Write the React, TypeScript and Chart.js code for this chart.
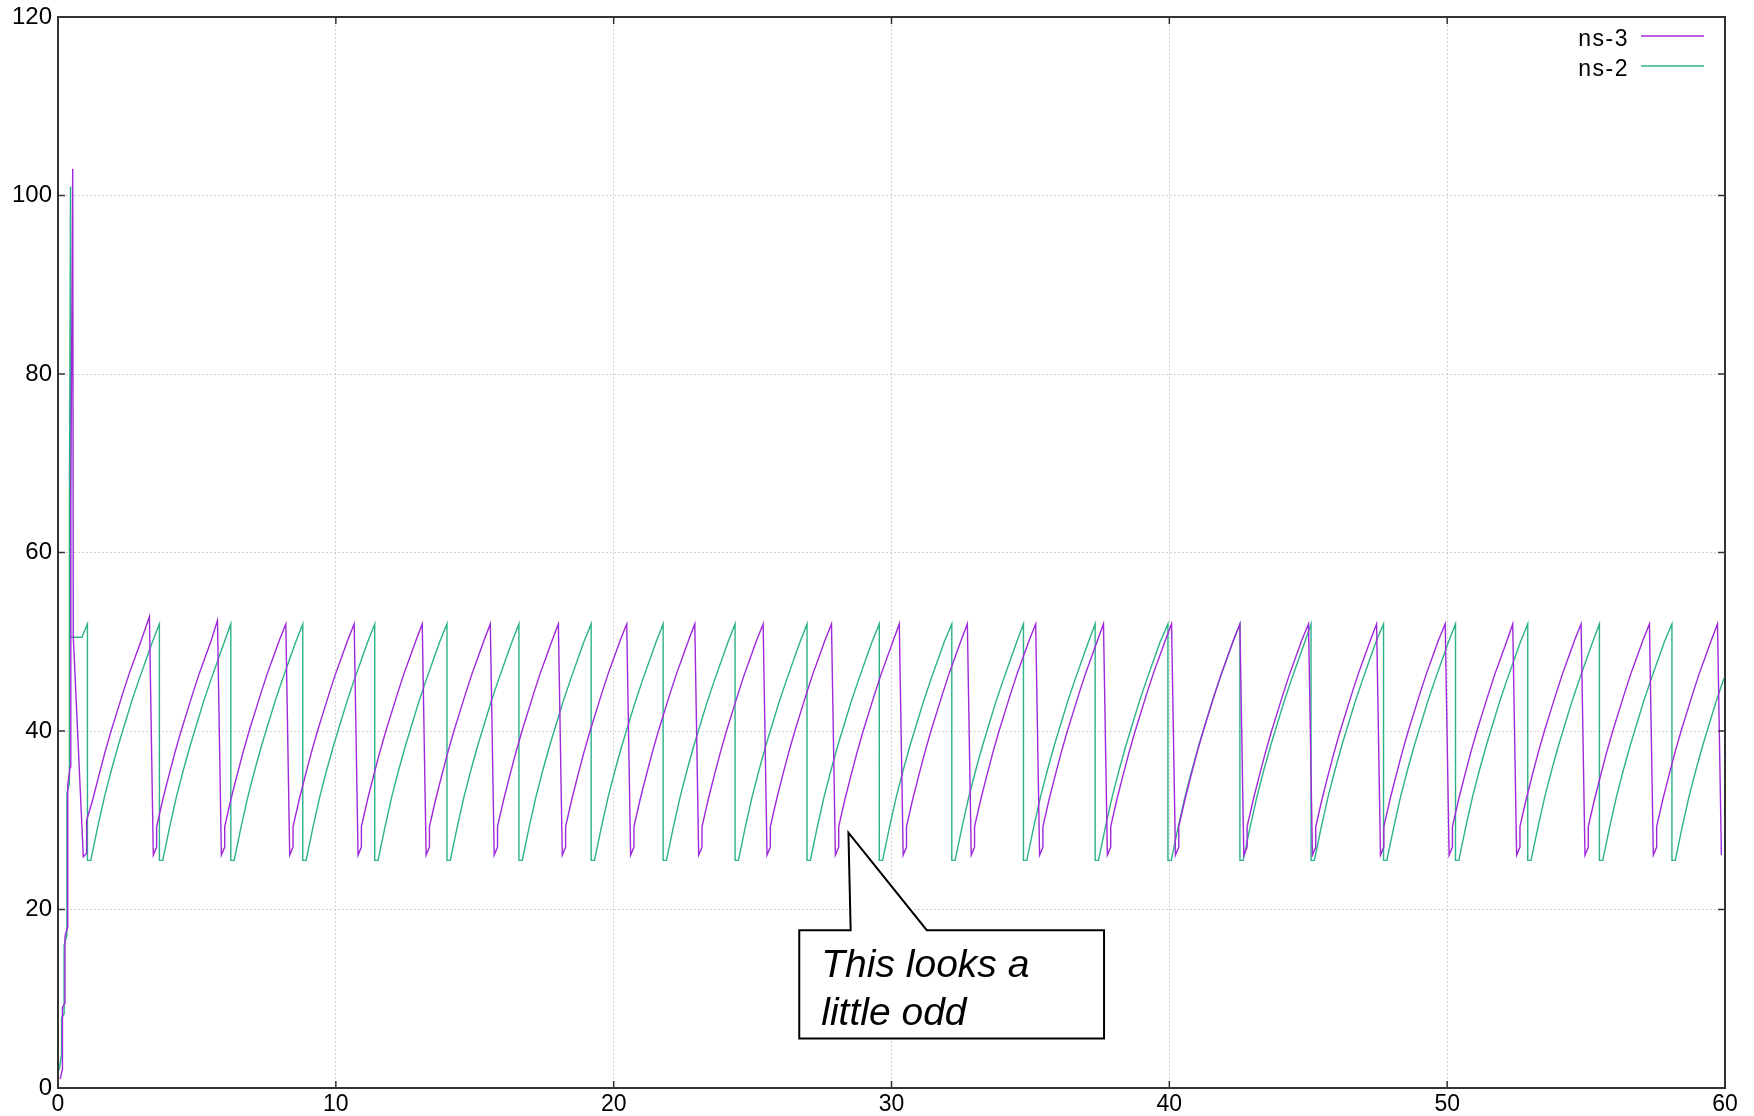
import React, { useEffect, useRef } from "react";
import { Chart, registerables } from "chart.js";

Chart.register(...registerables);

// Axis ranges and tick steps
const X_MIN = 0;
const X_MAX = 60;
const X_STEP = 10;
const Y_MIN = 0;
const Y_MAX = 120;
const Y_STEP = 20;

const SERIES_LABELS = ["ns-3", "ns-2"];
const SERIES_COLORS = ["#a028dc", "#2cb28a"];

// ns-3: slow start, first loss and recovery, up to the start of the first linear climb
const ns3Start: [number, number][] = [
  [0.08, 1.0], [0.15, 2.0], [0.16, 4.5], [0.16, 9.0], [0.24, 9.5], [0.25, 17.0],
  [0.34, 18.0], [0.35, 34.0], [0.44, 36.0], [0.46, 66.0], [0.53, 103.0],
  [0.55, 50.6], [0.91, 25.9], [1.03, 26.3], [1.03, 30.0],
];
const ns3FirstRiseStart = 1.03;
// time of each window peak and its height
const ns3PeakTimes = [
  3.29, 5.74, 8.2, 10.66, 13.11, 15.56, 18.01, 20.47, 22.92, 25.38, 27.84, 30.28,
  32.73, 35.19, 37.63, 40.08, 42.54, 45.01, 47.46, 49.93, 52.36, 54.82, 57.28, 59.73,
];
const ns3PeakValues = [
  52.8, 52.4, 52.0, 52.0, 52.0, 52.0, 52.0, 52.0, 52.0, 52.0, 52.0, 52.0,
  52.0, 52.0, 52.0, 52.0, 52.0, 52.0, 52.0, 52.0, 52.0, 52.0, 52.0, 52.0,
];
const ns3Trough = 26.1;
const ns3StepLow = 27.0;
const ns3StepHigh = 29.3;
const ns3DropWidth = 0.14;
const ns3StepDelay = 0.26;
// climb after each recovery: [time since recovery, window]
const ns3RiseProfile: [number, number][] = [
  [0.22, 32.3], [0.44, 35.0], [0.66, 37.6], [0.88, 40.0], [1.1, 42.2],
  [1.31, 44.3], [1.53, 46.4], [1.75, 48.3], [1.97, 50.2],
];

// ns-2: slow start and the flat stretch after the first loss
const ns2Start: [number, number][] = [
  [0.04, 2.0], [0.13, 3.8], [0.13, 7.9], [0.22, 8.3], [0.22, 16.0], [0.31, 17.0],
  [0.32, 33.0], [0.4, 34.0], [0.41, 64.0], [0.45, 101.0], [0.45, 50.5], [0.86, 50.5],
];
const ns2PeakTimes = [
  1.06, 3.65, 6.22, 8.81, 11.4, 14.0, 16.59, 19.19, 21.78, 24.37, 26.96, 29.56,
  32.17, 34.75, 37.33, 39.95, 42.54, 45.1, 47.71, 50.3, 52.9, 55.48, 58.09,
];
const ns2Peak = 52.0;
const ns2Trough = 25.5;
const ns2FlatWidth = 0.12;
const ns2EndValue = 46.0;
const ns2RiseProfile: [number, number][] = [
  [0.25, 29.25], [0.49, 32.6], [0.74, 35.6], [0.99, 38.4], [1.24, 40.95],
  [1.48, 43.4], [1.73, 45.7], [1.98, 47.9], [2.22, 50.0],
];

const CALLOUT_LINES = ["This looks a", "little odd"];
// callout box and pointer, in axis units
const CALLOUT_TIP = [28.45, 28.6];
const CALLOUT_BOX_X = [26.68, 37.65];
const CALLOUT_BOX_Y = [5.56, 17.68];
const CALLOUT_BASE_X = [28.53, 31.27];

type Pt = { x: number; y: number };

function buildNs3(): Pt[] {
  const pts: [number, number][] = [...ns3Start];
  let riseStart = ns3FirstRiseStart;
  ns3PeakTimes.forEach((t, i) => {
    for (const [dt, v] of ns3RiseProfile) {
      if (riseStart + dt < t - 0.05) pts.push([riseStart + dt, v]);
    }
    pts.push([t, ns3PeakValues[i]]);
    pts.push([t + ns3DropWidth, ns3Trough]);
    if (i < ns3PeakTimes.length - 1) {
      pts.push([t + ns3StepDelay, ns3StepLow]);
      pts.push([t + ns3StepDelay, ns3StepHigh]);
      riseStart = t + ns3StepDelay;
    }
  });
  return pts.map(([x, y]) => ({ x, y }));
}

function buildNs2(): Pt[] {
  const pts: [number, number][] = [...ns2Start];
  ns2PeakTimes.forEach((t, i) => {
    pts.push([t, ns2Peak]);
    pts.push([t, ns2Trough]);
    pts.push([t + ns2FlatWidth, ns2Trough]);
    const riseStart = t + ns2FlatWidth;
    const next = i < ns2PeakTimes.length - 1 ? ns2PeakTimes[i + 1] : X_MAX;
    for (const [dt, v] of ns2RiseProfile) {
      if (riseStart + dt < next - 0.05) pts.push([riseStart + dt, v]);
    }
  });
  pts.push([X_MAX, ns2EndValue]);
  return pts.map(([x, y]) => ({ x, y }));
}

const FRAME_COLOR = "#333333";
const TICK_LEN = 7;

const framePlugin = {
  id: "frameAndDecor",
  afterDatasetsDraw(chart: any) {
    const { ctx, chartArea: a, scales } = chart;
    const xs = scales.x;
    const ys = scales.y;
    ctx.save();

    // inward ticks on all four sides
    ctx.strokeStyle = FRAME_COLOR;
    ctx.lineWidth = 1.5;
    ctx.beginPath();
    for (let v = X_MIN; v <= X_MAX; v += X_STEP) {
      const px = xs.getPixelForValue(v);
      ctx.moveTo(px, a.bottom);
      ctx.lineTo(px, a.bottom - TICK_LEN);
      ctx.moveTo(px, a.top);
      ctx.lineTo(px, a.top + TICK_LEN);
    }
    for (let v = Y_MIN; v <= Y_MAX; v += Y_STEP) {
      const py = ys.getPixelForValue(v);
      ctx.moveTo(a.left, py);
      ctx.lineTo(a.left + TICK_LEN, py);
      ctx.moveTo(a.right, py);
      ctx.lineTo(a.right - TICK_LEN, py);
    }
    ctx.stroke();

    // frame
    ctx.lineWidth = 2;
    ctx.strokeRect(a.left, a.top, a.right - a.left, a.bottom - a.top);

    // key in the top-right corner
    ctx.font = "23px 'Liberation Sans', Arial, sans-serif";
    ctx.textAlign = "right";
    ctx.textBaseline = "alphabetic";
    (ctx as any).letterSpacing = "1.5px";
    chart.data.datasets.forEach((ds: any, i: number) => {
      const baseY = a.top + 28.5 + i * 30;
      const lineY = a.top + 19 + i * 30;
      ctx.fillStyle = "#000";
      ctx.fillText(ds.label, a.right - 96, baseY);
      ctx.strokeStyle = ds.borderColor;
      ctx.lineWidth = 1.6;
      ctx.beginPath();
      ctx.moveTo(a.right - 84, lineY);
      ctx.lineTo(a.right - 21, lineY);
      ctx.stroke();
    });
    (ctx as any).letterSpacing = "0px";

    // callout
    const bx0 = xs.getPixelForValue(CALLOUT_BOX_X[0]);
    const bx1 = xs.getPixelForValue(CALLOUT_BOX_X[1]);
    const by0 = ys.getPixelForValue(CALLOUT_BOX_Y[1]);
    const by1 = ys.getPixelForValue(CALLOUT_BOX_Y[0]);
    const tx = xs.getPixelForValue(CALLOUT_TIP[0]);
    const ty = ys.getPixelForValue(CALLOUT_TIP[1]);
    const p0 = xs.getPixelForValue(CALLOUT_BASE_X[0]);
    const p1 = xs.getPixelForValue(CALLOUT_BASE_X[1]);
    ctx.beginPath();
    ctx.moveTo(bx0, by0);
    ctx.lineTo(p0, by0);
    ctx.lineTo(tx, ty);
    ctx.lineTo(p1, by0);
    ctx.lineTo(bx1, by0);
    ctx.lineTo(bx1, by1);
    ctx.lineTo(bx0, by1);
    ctx.closePath();
    ctx.fillStyle = "#ffffff";
    ctx.fill();
    ctx.strokeStyle = "#000";
    ctx.lineWidth = 2;
    ctx.lineJoin = "miter";
    ctx.stroke();

    ctx.fillStyle = "#000";
    ctx.textAlign = "left";
    ctx.font = "italic 39px 'Liberation Sans', Arial, sans-serif";
    CALLOUT_LINES.forEach((line, i) => {
      ctx.fillText(line, bx0 + 22, by0 + 47 + i * 48);
    });

    ctx.restore();
  },
};

export default function App() {
  const canvasRef = useRef<HTMLCanvasElement | null>(null);

  useEffect(() => {
    document.body.style.margin = "0";
    const canvas = canvasRef.current;
    if (!canvas) return;
    const chart = new Chart(canvas, {
      type: "line",
      data: {
        datasets: [
          {
            label: SERIES_LABELS[0],
            data: buildNs3(),
            borderColor: SERIES_COLORS[0],
            borderWidth: 1.4,
            pointRadius: 0,
            tension: 0,
            fill: false,
          },
          {
            label: SERIES_LABELS[1],
            data: buildNs2(),
            borderColor: SERIES_COLORS[1],
            borderWidth: 1.4,
            pointRadius: 0,
            tension: 0,
            fill: false,
          },
        ],
      },
      options: {
        animation: false,
        responsive: false,
        devicePixelRatio: 1,
        parsing: false,
        normalized: true,
        layout: { padding: { top: 17, right: 29, left: 0, bottom: 0 } },
        plugins: {
          legend: { display: false },
          tooltip: { enabled: false },
        },
        scales: {
          x: {
            type: "linear",
            min: X_MIN,
            max: X_MAX,
            ticks: {
              stepSize: X_STEP,
              color: "#000",
              padding: 3,
              maxRotation: 0,
              font: { family: "'Liberation Sans', Arial, sans-serif", size: 23 },
            },
            grid: { color: "#c4c4c4", lineWidth: 1, drawTicks: false },
            border: { display: false, dash: [1.5, 2.5] },
            afterFit(scale: any) {
              scale.height = 28;
              scale.paddingLeft = 0;
              scale.paddingRight = 0;
            },
          },
          y: {
            type: "linear",
            min: Y_MIN,
            max: Y_MAX,
            ticks: {
              stepSize: Y_STEP,
              color: "#000",
              padding: 6,
              font: { family: "'Liberation Sans', Arial, sans-serif", size: 24 },
            },
            grid: { color: "#c4c4c4", lineWidth: 1, drawTicks: false },
            border: { display: false, dash: [1.5, 2.5] },
            afterFit(scale: any) {
              scale.width = 58;
              scale.paddingTop = 0;
              scale.paddingBottom = 0;
            },
          },
        },
      },
      plugins: [framePlugin],
    } as any);
    return () => chart.destroy();
  }, []);

  return (
    <div style={{ position: "absolute", left: 0, top: 0, width: 1754, height: 1116, background: "#fff" }}>
      <canvas ref={canvasRef} width={1754} height={1116} />
    </div>
  );
}
